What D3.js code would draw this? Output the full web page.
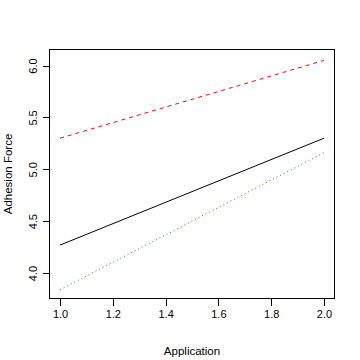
<!DOCTYPE html>
<html>
<head>
<meta charset="utf-8">
<script src="https://cdn.jsdelivr.net/npm/d3@7"></script>
<style>
  body { margin: 0; background: #fff; }
  svg { display: block; font-family: "Liberation Sans", Arial, sans-serif; }
</style>
</head>
<body>
<div id="chart"></div>
<script>
// data
const application = [1.0, 2.0];
const solidSeries = [4.27, 5.30];
const dashedSeries = [5.30, 6.05];
const dottedSeries = [3.84, 5.16];
const xTicks = [1.0, 1.2, 1.4, 1.6, 1.8, 2.0];
const yTicks = [4.0, 4.5, 5.0, 5.5, 6.0];

const margin = { top: 49, right: 26, bottom: 62, left: 49 };
const width = 360 - margin.left - margin.right;
const height = 360 - margin.top - margin.bottom;

const svg = d3.select('#chart')
    .append('svg')
    .attr('width', 360)
    .attr('height', 360)
    .append('g')
    .attr('transform', `translate(${margin.left + 0.5},${margin.top + 0.5})`);

const x = d3.scaleLinear().domain([0.96, 2.04]).range([0, width]);
const y = d3.scaleLinear().domain([3.755, 6.155]).range([height, 0]);

// plot box
svg.append('rect')
    .attr('width', width)
    .attr('height', height)
    .attr('fill', 'none')
    .attr('stroke', '#000')
    .attr('shape-rendering', 'crispEdges');

const xAxis = svg.append('g')
    .attr('transform', `translate(0,${height})`)
    .call(d3.axisBottom(x).tickValues(xTicks).tickFormat(d3.format('.1f')).tickSize(7).tickPadding(5));
xAxis.select('.domain')
    .attr('d', `M${x(1.0)},0H${x(2.0)}`);

const yAxis = svg.append('g')
    .call(d3.axisLeft(y).tickValues(yTicks).tickFormat(d3.format('.1f')).tickSize(7));
yAxis.select('.domain')
    .attr('d', `M0,${y(4.0)}V${y(6.0)}`);
yAxis.selectAll('.tick text')
    .attr('x', null)
    .attr('dy', null)
    .attr('transform', 'translate(-13,0) rotate(-90)')
    .attr('text-anchor', 'middle');

svg.selectAll('.domain, .tick line')
    .attr('stroke', '#000')
    .attr('shape-rendering', 'crispEdges');
svg.selectAll('.tick text')
    .attr('fill', '#000')
    .style('font-size', '11px')
    .style('font-family', '"Liberation Sans", Arial, sans-serif');

const line = d3.line()
    .x((d, i) => x(application[i]))
    .y(d => y(d));

svg.append('path')
    .datum(solidSeries)
    .attr('d', line)
    .attr('fill', 'none')
    .attr('stroke', '#000')
    .attr('stroke-width', 1);

svg.append('path')
    .datum(dashedSeries)
    .attr('d', line)
    .attr('fill', 'none')
    .attr('stroke', '#ff0000')
    .attr('stroke-width', 1)
    .attr('stroke-dasharray', '4,4');

svg.append('path')
    .datum(dottedSeries)
    .attr('d', line)
    .attr('fill', 'none')
    .attr('stroke', '#139313')
    .attr('stroke-width', 1)
    .attr('stroke-dasharray', '1,3');

// axis titles
svg.append('text')
    .attr('x', width / 2)
    .attr('y', height + 56)
    .attr('text-anchor', 'middle')
    .style('font-size', '11.5px')
    .text('Application');

svg.append('text')
    .attr('transform', `translate(-38,${height / 2}) rotate(-90)`)
    .attr('text-anchor', 'middle')
    .style('font-size', '11.5px')
    .text('Adhesion Force');
</script>
</body>
</html>
